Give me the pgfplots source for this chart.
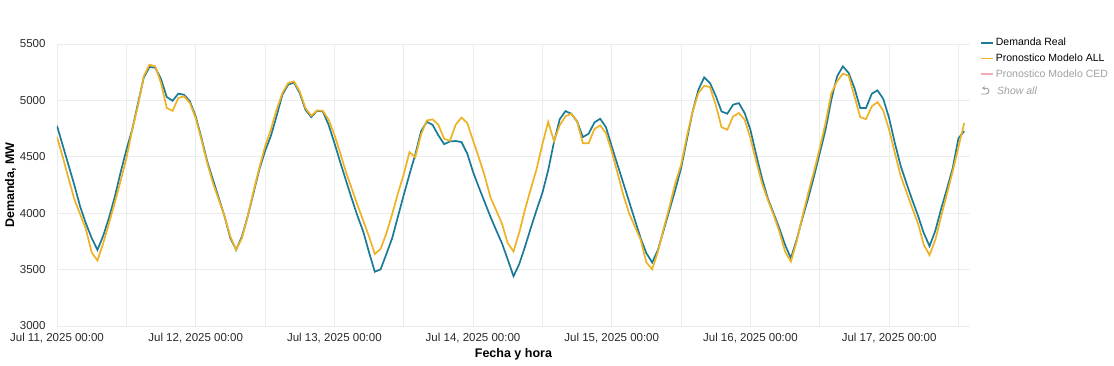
\documentclass[border=0pt]{standalone}
\usepackage{fontspec}
\setmainfont{Liberation Sans}
\usepackage{pgfplots}
\pgfplotsset{compat=1.18}
\usepackage{pgfplotstable}
\usetikzlibrary{arrows.meta}
\definecolor{realc}{RGB}{26,122,152}
\definecolor{allc}{RGB}{239,178,36}
\definecolor{cedc}{RGB}{244,170,185}
\definecolor{gridc}{RGB}{236,236,236}
\definecolor{txtc}{RGB}{42,42,42}
\definecolor{fadec}{RGB}{160,160,160}

\pgfplotstableread{
h real all
0 4775 4675
1 4600 4500
2 4425 4308
3 4250 4124
4 4060 3992
5 3910 3858
6 3780 3653
7 3675 3580
8 3800 3734
9 3960 3910
10 4145 4095
11 4360 4285
12 4560 4485
13 4740 4735
14 4970 4950
15 5200 5213
16 5296 5317
17 5290 5302
18 5189 5154
19 5030 4932
20 4997 4908
21 5060 5021
22 5050 5036
23 4991 4976
24 4858 4843
25 4666 4651
26 4459 4444
27 4296 4266
28 4134 4119
29 3971 3971
30 3779 3793
31 3675 3675
32 3793 3779
33 3971 3971
34 4178 4193
35 4385 4400
36 4550 4590
37 4683 4740
38 4861 4917
39 5050 5065
40 5139 5154
41 5160 5169
42 5065 5080
43 4917 4932
44 4852 4864
45 4908 4911
46 4902 4908
47 4784 4829
48 4624 4697
49 4455 4535
50 4292 4366
51 4130 4220
52 3976 4072
53 3837 3933
54 3653 3793
55 3481 3638
56 3502 3683
57 3638 3822
58 3778 3991
59 3970 4175
60 4160 4344
61 4345 4542
62 4520 4495
63 4726 4697
64 4810 4822
65 4783 4832
66 4690 4784
67 4612 4660
68 4636 4642
69 4640 4785
70 4630 4848
71 4528 4800
72 4366 4645
73 4230 4494
74 4100 4333
75 3970 4143
76 3850 4026
77 3734 3909
78 3590 3734
79 3441 3661
80 3550 3830
81 3705 4035
82 3870 4216
83 4030 4392
84 4180 4611
85 4380 4810
86 4630 4640
87 4833 4780
88 4905 4860
89 4882 4882
90 4814 4814
91 4675 4621
92 4704 4621
93 4805 4746
94 4837 4778
95 4763 4710
96 4592 4548
97 4429 4355
98 4267 4163
99 4104 4000
100 3941 3882
101 3779 3764
102 3645 3563
103 3563 3503
104 3675 3660
105 3852 3867
106 4030 4059
107 4207 4267
108 4400 4429
109 4651 4681
110 4902 4902
111 5095 5065
112 5204 5130
113 5154 5118
114 5040 4960
115 4902 4763
116 4882 4740
117 4962 4858
118 4976 4888
119 4888 4829
120 4740 4666
121 4518 4459
122 4311 4266
123 4133 4119
124 4000 3986
125 3867 3838
126 3719 3660
127 3601 3571
128 3764 3749
129 3956 3971
130 4133 4178
131 4326 4370
132 4533 4577
133 4740 4799
134 5006 5065
135 5213 5169
136 5302 5237
137 5243 5219
138 5110 5036
139 4932 4852
140 4932 4834
141 5059 4947
142 5089 4985
143 5012 4908
144 4843 4740
145 4621 4533
146 4420 4330
147 4266 4190
148 4118 4045
149 3978 3910
150 3824 3720
151 3708 3628
152 3845 3765
153 4038 3970
154 4214 4170
155 4398 4370
156 4664 4586
157 4727 4800
}\demand

\begin{document}
\begin{tikzpicture}
\useasboundingbox (0pt,0pt) rectangle (1114pt,365pt);
\begin{axis}[
  at={(57pt,39pt)}, anchor=south west,
  scale only axis, width=913pt, height=282pt,
  xmin=0, xmax=158, ymin=3000, ymax=5500,
  xtick={0,24,48,72,96,120,144},
  xticklabels={{Jul 11, 2025 00:00},{Jul 12, 2025 00:00},{Jul 13, 2025 00:00},{Jul 14, 2025 00:00},{Jul 15, 2025 00:00},{Jul 16, 2025 00:00},{Jul 17, 2025 00:00}},
  minor xtick={12,36,60,84,108,132,156},
  ytick={3000,3500,4000,4500,5000,5500},
  grid=both,
  major grid style={draw=gridc, line width=0.9pt},
  minor grid style={draw=gridc, line width=0.9pt},
  axis line style={draw=none},
  tick style={draw=none},
  /pgf/number format/assume math mode=true,
  /pgf/number format/1000 sep={},
  ticklabel style={font=\fontsize{11.5}{13}\selectfont, text=txtc},
  yticklabel style={xshift=-8pt},
  xticklabel style={yshift=-4pt},
  xlabel={\textbf{Fecha y hora}},
  xlabel style={at={(axis description cs:0.5,-0.099)}, anchor=center, font=\fontsize{12.5}{15}\selectfont, text=black},
  ylabel={\textbf{Demanda, MW}},
  ylabel style={at={(axis description cs:-0.051,0.5)}, anchor=center, font=\fontsize{12.5}{15}\selectfont, text=black},
  legend style={at={(1,1)}, anchor=north west, xshift=10pt, yshift=8pt, draw=none, fill=none,
    font=\fontsize{10.5}{12}\selectfont, inner sep=0pt, row sep=2.5pt,
    cells={anchor=west}},
  legend image code/.code={\draw[#1] (0pt,0pt) -- (12pt,0pt);},
  legend cell align=left,
]
\addlegendimage{draw=realc, line width=1.7pt}
\addlegendentry{Demanda Real}
\addlegendimage{draw=allc, line width=1.7pt}
\addlegendentry{Pronostico Modelo ALL}
\addlegendimage{draw=cedc, line width=1.7pt}
\addlegendentry{\textcolor{fadec}{Pronostico Modelo CED}}
\addplot[draw=realc, line width=1.7pt, forget plot] table[x=h, y=real] {\demand};
\addplot[draw=allc, line width=1.7pt, forget plot] table[x=h, y=all] {\demand};
\end{axis}
\draw[fadec, line width=0.9pt, -{Stealth[length=3pt,width=4pt]}] (986pt,277pt) -- (982pt,277pt);
\draw[fadec, line width=0.9pt] (986pt,277pt) arc[start angle=90, end angle=-90, radius=3pt] -- (981pt,271pt);
\node[anchor=west, inner sep=0pt, text=fadec, font=\fontsize{10.5}{12}\selectfont\itshape] at (997pt,274pt) {Show all};
\end{tikzpicture}
\end{document}
